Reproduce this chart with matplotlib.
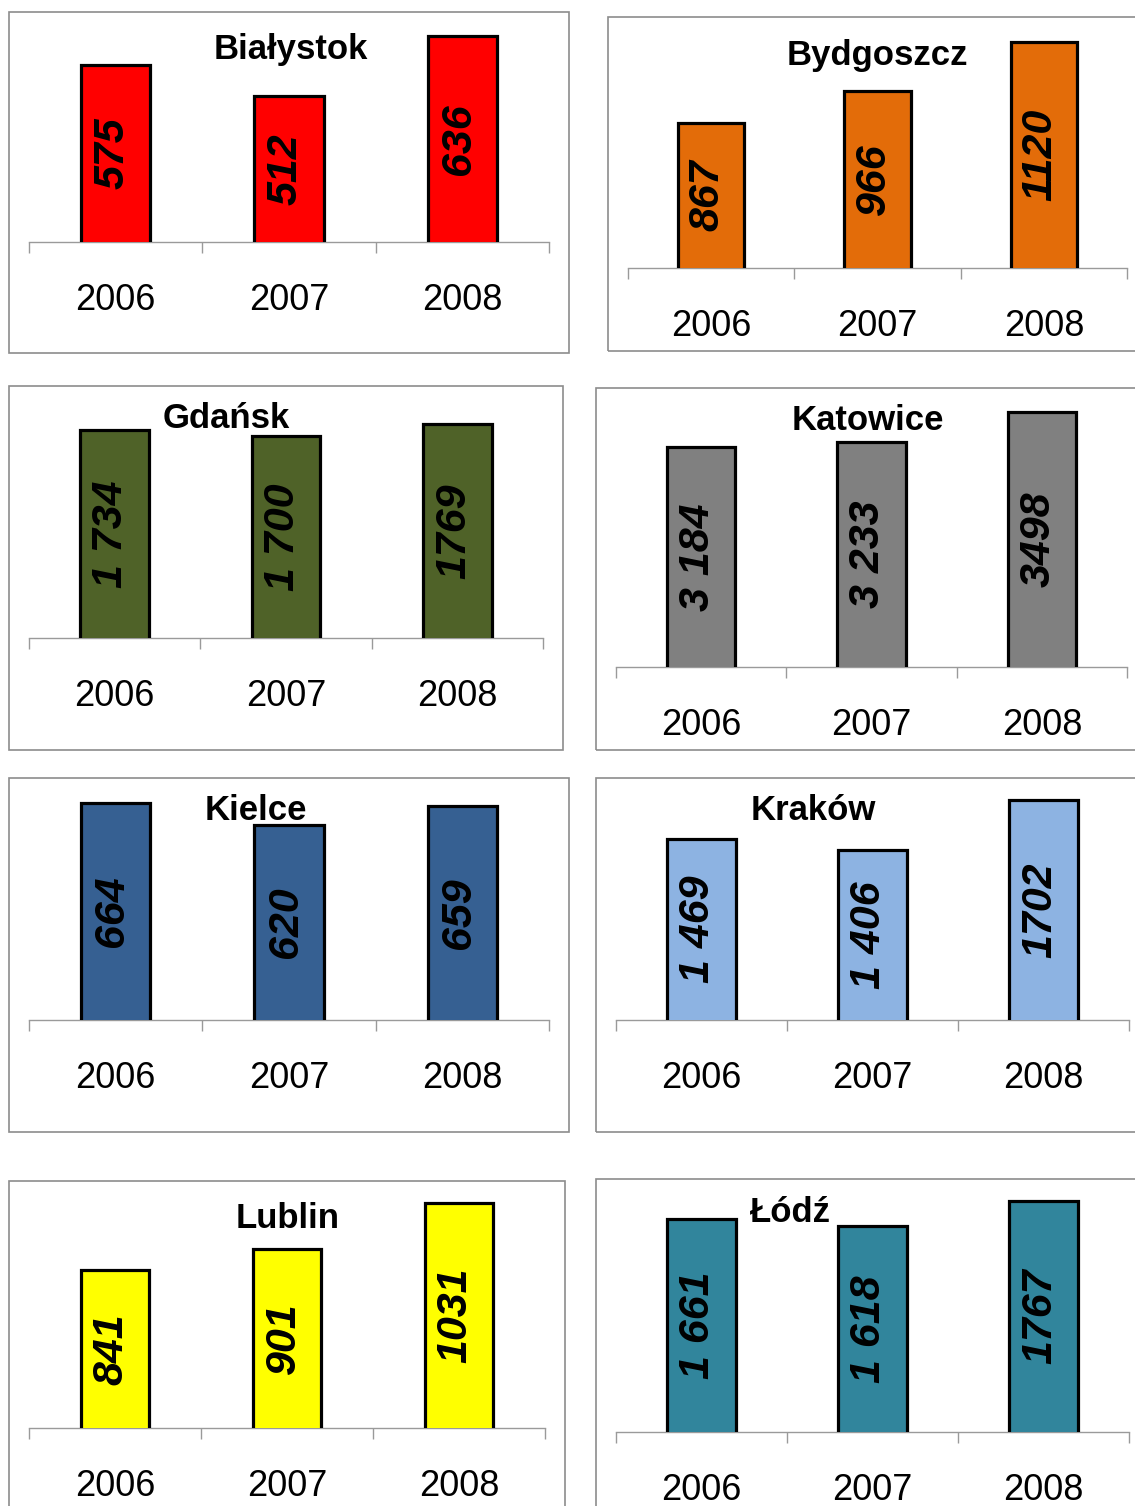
import matplotlib.pyplot as plt
from matplotlib.patches import Rectangle

plt.rcParams['font.family'] = ['Liberation Sans', 'DejaVu Sans']

# values per city, years 2006-2008
years = ['2006', '2007', '2008']
cities = ['Białystok', 'Bydgoszcz', 'Gdańsk', 'Katowice',
          'Kielce', 'Kraków', 'Lublin', 'Łódź']
bialystok = [575, 512, 636]
bydgoszcz = [867, 966, 1120]
gdansk = [1734, 1700, 1769]
katowice = [3184, 3233, 3498]
kielce = [664, 620, 659]
krakow = [1469, 1406, 1702]
lublin = [841, 901, 1031]
lodz = [1661, 1618, 1767]
values = [bialystok, bydgoszcz, gdansk, katowice, kielce, krakow, lublin, lodz]
colors = ['#FF0000', '#E36C09', '#4F6228', '#808080',
          '#366092', '#8DB3E2', '#FFFF00', '#31859C']

W, H = 1135, 1506
fig = plt.figure(figsize=(W / 100, H / 100), dpi=100)
fig.patch.set_facecolor('white')

# layout in pixels: frame box, axis x-extent, axes top/bottom, y-limits, title centre
frames = [(9, 12, 569, 353), (608, 17, 1140, 351),
          (9, 386, 563, 750), (596, 388, 1140, 750),
          (9, 778, 569, 1132), (596, 778, 1140, 1132),
          (9, 1181, 565, 1512), (596, 1179, 1140, 1512)]
axis_x = [(29, 549), (628, 1127), (29, 543), (616, 1127),
          (29, 549), (616, 1129), (29, 545), (616, 1129)]
axis_y = [(12, 242), (17, 268), (386, 638), (388, 667),
          (778, 1020), (778, 1020), (1181, 1428), (1179, 1432)]
ylims = [(210, 685), (414, 1198), (539, 1987), (1202, 3716),
         (230, 714), (400, 1832), (393, 1093), (392, 1898)]
title_pos = [(291, 50), (877, 56), (226, 418), (868, 420),
             (256, 810), (813, 810), (288, 1218), (790, 1212)]


def fmt(v, i):
    # first two years use a space as thousands separator
    if i < 2 and v >= 1000:
        return f"{v:,}".replace(',', ' ')
    return str(v)


for k, city in enumerate(cities):
    fx0, fy0, fx1, fy1 = frames[k]
    fig.add_artist(Rectangle((fx0 / W, 1 - fy1 / H), (fx1 - fx0) / W, (fy1 - fy0) / H,
                             transform=fig.transFigure, fill=False,
                             edgecolor='#8c8c8c', linewidth=1.2))

    x0, x1 = axis_x[k]
    yt, yb = axis_y[k]
    ax = fig.add_axes([x0 / W, 1 - yb / H, (x1 - x0) / W, (yb - yt) / H])
    ax.patch.set_alpha(0)

    vals = values[k]
    ax.bar(range(3), vals, width=0.40, color=colors[k],
           edgecolor='black', linewidth=2.3, zorder=3)
    ax.set_xlim(-0.5, 2.5)
    ax.set_ylim(*ylims[k])

    for s in ['top', 'left', 'right']:
        ax.spines[s].set_visible(False)
    ax.spines['bottom'].set_color('#9a9a9a')
    ax.spines['bottom'].set_linewidth(1)
    ax.set_yticks([])
    ax.set_xticks([])
    ax.set_xticks([-0.5, 0.5, 1.5, 2.5], minor=True)
    ax.tick_params(axis='x', which='minor', length=8, width=1,
                   color='#9a9a9a', direction='out', labelbottom=False)

    for i, v in enumerate(vals):
        ax.text(i - 0.02, (ylims[k][0] + v) / 2, fmt(v, i), rotation=90,
                ha='center', va='center', fontsize=31,
                fontweight='bold', fontstyle='italic', zorder=4)
        ax.annotate(years[i], xy=(i, 0), xycoords=('data', 'axes fraction'),
                    xytext=(0, -58), textcoords='offset pixels',
                    ha='center', va='center', fontsize=26)

    tx, ty = title_pos[k]
    fig.text(tx / W, 1 - ty / H, city, ha='center', va='center',
             fontsize=25, fontweight='bold', zorder=10)

fig.savefig('out.png', dpi=100)
